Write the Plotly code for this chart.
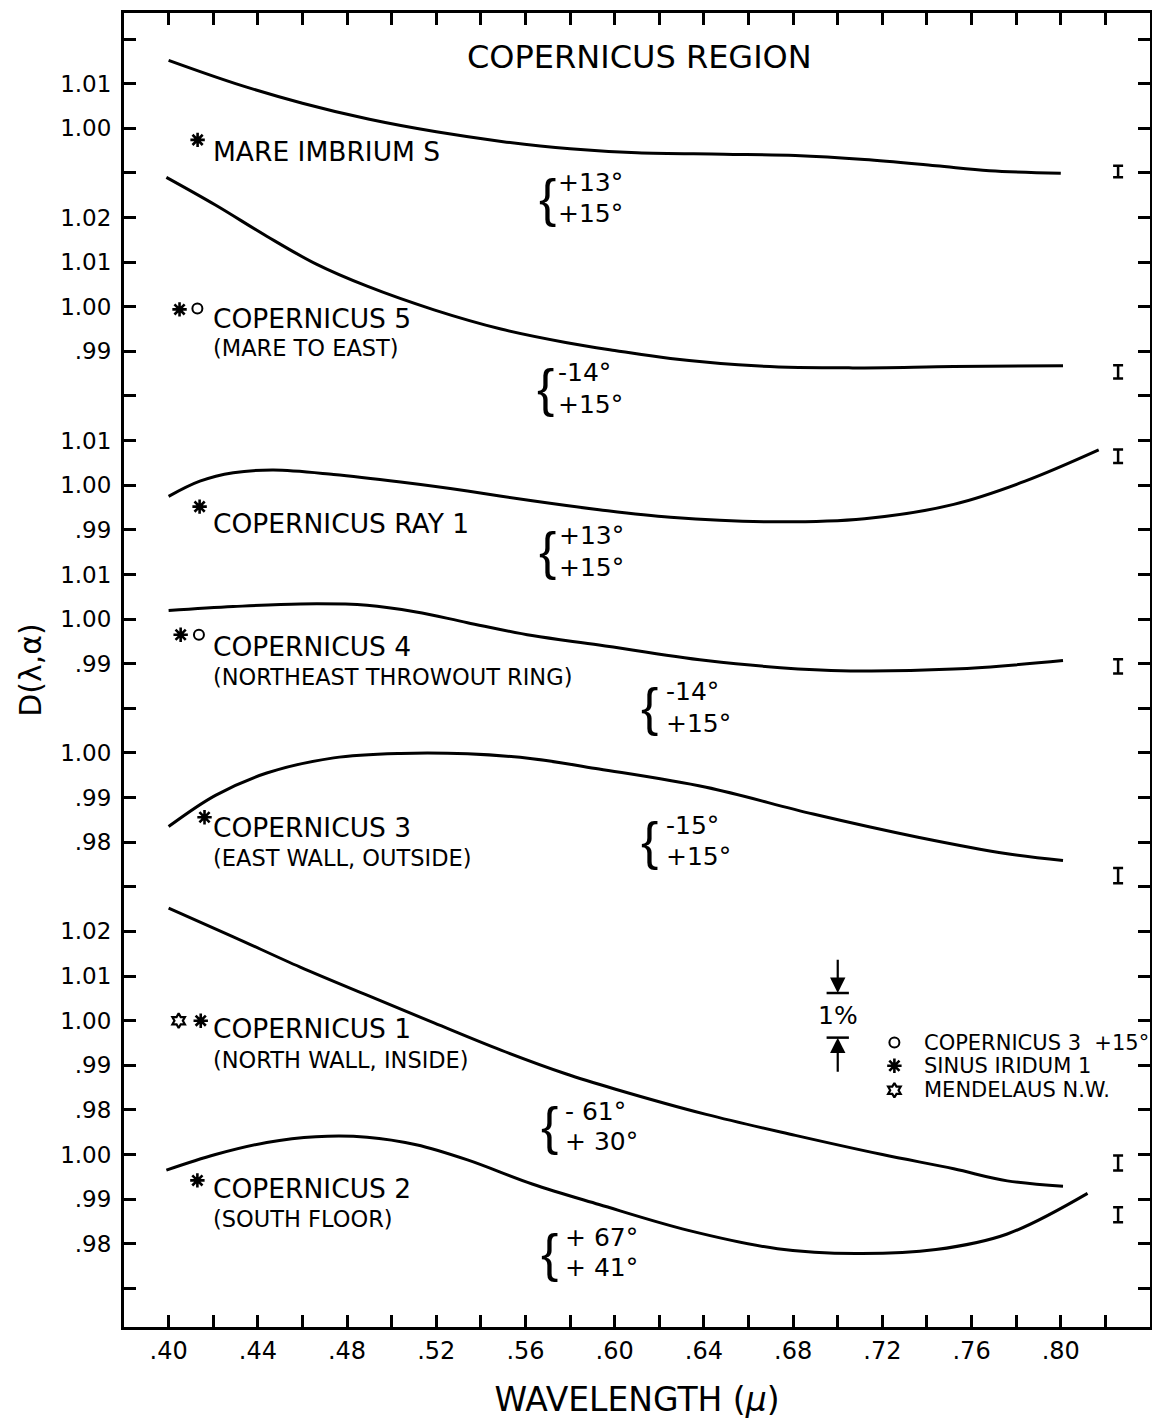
import plotly.graph_objects as go

# ---------------- data ----------------
# D(lambda, alpha) curves, wavelength in microns
mare_x = [0.400, 0.430, 0.460, 0.490, 0.520, 0.550, 0.580, 0.610, 0.649, 0.681, 0.712, 0.744, 0.768, 0.800]
mare_d = [1.0152, 1.0100, 1.0056, 1.0020, 0.9992, 0.9970, 0.9954, 0.9945, 0.9942, 0.9939, 0.9930, 0.9916, 0.9905, 0.9899]

cop5_x = [0.399, 0.421, 0.444, 0.466, 0.489, 0.519, 0.549, 0.578, 0.600, 0.625, 0.665, 0.705, 0.752, 0.801]
cop5_d = [1.0290, 1.0228, 1.0158, 1.0096, 1.0046, 0.9993, 0.9950, 0.9920, 0.9902, 0.9884, 0.9867, 0.9863, 0.9866, 0.9868]

ray1_x = [0.400, 0.414, 0.429, 0.447, 0.474, 0.504, 0.534, 0.563, 0.593, 0.625, 0.670, 0.712, 0.752, 0.784, 0.817]
ray1_d = [0.9975, 1.0009, 1.0028, 1.0034, 1.0024, 1.0007, 0.9987, 0.9965, 0.9945, 0.9928, 0.9918, 0.9925, 0.9957, 1.0009, 1.0079]

cop4_x = [0.400, 0.429, 0.459, 0.489, 0.511, 0.534, 0.563, 0.593, 0.641, 0.697, 0.752, 0.801]
cop4_d = [1.0019, 1.0028, 1.0034, 1.0031, 1.0016, 0.9992, 0.9963, 0.9942, 0.9907, 0.9885, 0.9888, 0.9907]

cop3_x = [0.400, 0.421, 0.444, 0.474, 0.504, 0.534, 0.563, 0.593, 0.641, 0.689, 0.736, 0.776, 0.801]
cop3_d = [0.9835, 0.9905, 0.9955, 0.9989, 0.9999, 0.9998, 0.9987, 0.9964, 0.9923, 0.9863, 0.9811, 0.9774, 0.9759]

cop1_x = [0.400, 0.429, 0.459, 0.489, 0.519, 0.549, 0.578, 0.600, 0.641, 0.681, 0.720, 0.752, 0.776, 0.801]
cop1_d = [1.0252, 1.0188, 1.0120, 1.0057, 0.9995, 0.9934, 0.9881, 0.9847, 0.9790, 0.9743, 0.9700, 0.9668, 0.9641, 0.9629]

cop2_x = [0.399, 0.421, 0.444, 0.466, 0.489, 0.511, 0.534, 0.563, 0.593, 0.633, 0.673, 0.708, 0.744, 0.776, 0.812]
cop2_d = [0.9965, 1.0000, 1.0027, 1.0040, 1.0039, 1.0022, 0.9988, 0.9934, 0.9888, 0.9830, 0.9789, 0.9778, 0.9787, 0.9822, 0.9913]

# vertical shift of each panel (D units) in the stacked plot
panel_offsets = [0.0, -0.04, -0.08, -0.11, -0.14, -0.20, -0.23]

# curve labels
label_names = ["MARE IMBRIUM S", "COPERNICUS 5", "COPERNICUS RAY 1", "COPERNICUS 4",
               "COPERNICUS 3", "COPERNICUS 1", "COPERNICUS 2"]
label_subs = ["", "(MARE TO EAST)", "", "(NORTHEAST THROWOUT RING)",
              "(EAST WALL, OUTSIDE)", "(NORTH WALL, INSIDE)", "(SOUTH FLOOR)"]
label_d = [0.9947, 0.9974, 0.9915, 0.9939, 0.9833, 0.9982, 0.9923]
sub_d = [None, 0.9907, None, 0.9870, 0.9765, 0.9912, 0.9855]
label_x = 0.4190

# phase angle pairs
angle_top = ["+13°", "-14°", "+13°", "-14°", "-15°", "- 61°", "+ 67°"]
angle_bottom = ["+15°", "+15°", "+15°", "+15°", "+15°", "+ 30°", "+ 41°"]
angle_d = [0.9844, 0.9817, 0.9852, 0.9802, 0.9803, 0.9763, 0.9780]
angle_gap = [0.0034, 0.0036, 0.0036, 0.0035, 0.0035, 0.0034, 0.0033]
angle_brace_x = [0.5697, 0.5688, 0.5697, 0.6155, 0.6155, 0.5706, 0.5706]
angle_text_x = [0.5736, 0.5736, 0.5740, 0.6221, 0.6221, 0.5767, 0.5767]

# comparison points
circle_x = [0.4129, 0.4136]
circle_d = [0.9996, 0.9965]
circle_panel = [1, 3]
asterisk_x = [0.4130, 0.4049, 0.4139, 0.4054, 0.4161, 0.4144, 0.4129]
asterisk_d = [0.9974, 0.9994, 0.9952, 0.9965, 0.9856, 1.0000, 0.9942]
asterisk_panel = [0, 1, 2, 3, 4, 5, 6]
hexagram_x = [0.4045]
hexagram_d = [1.0000]
hexagram_panel = [5]

# key for the point symbols (drawn in panel 5 units)
key_names = ["COPERNICUS 3  +15°", "SINUS IRIDUM 1", "MENDELAUS N.W."]
key_symbols = ["circle-open", "asterisk-open", "hexagram-open"]
key_d = [0.9951, 0.9899, 0.9844]
key_x, key_text_x = 0.7254, 0.7376

# error bars at the right
err_x = 0.8257
err_d = [0.9903, 0.9854, 1.0065, 0.9894, 0.9725, 0.9681, 0.9865]
err_half = [0.0013, 0.0015, 0.0015, 0.0016, 0.0017, 0.0017, 0.0017]

# 1% scale marker (in panel 5 units)
scale_x = 0.70
scale_top, scale_bottom = 1.0062, 0.9962
scale_top_tail, scale_bottom_tail = 1.0140, 0.9882

# axis ticks
x_tickvals = [round(0.40 + 0.02 * i, 2) for i in range(22)]
x_ticktext = [(".%02d" % round(v * 100)) if i % 2 == 0 else "" for i, v in enumerate(x_tickvals)]
y_tickvals = [round(1.02 - 0.01 * k, 2) for k in range(29)]
y_ticktext = ["", "1.01", "1.00", "", "1.02", "1.01", "1.00", ".99", "", "1.01", "1.00", ".99",
              "1.01", "1.00", ".99", "", "1.00", ".99", ".98", "", "1.02", "1.01", "1.00", ".99",
              ".98", "1.00", ".99", ".98", ""]

FONT = "DejaVu Sans"
fig = go.Figure()

curves = [(mare_x, mare_d), (cop5_x, cop5_d), (ray1_x, ray1_d), (cop4_x, cop4_d),
          (cop3_x, cop3_d), (cop1_x, cop1_d), (cop2_x, cop2_d)]
for i, (cx, cd) in enumerate(curves):
    fig.add_trace(go.Scatter(x=cx, y=[v + panel_offsets[i] for v in cd], mode="lines",
                             line=dict(color="black", width=3, shape="spline", smoothing=1.0),
                             showlegend=False, hoverinfo="skip"))

marker_styles = {
    "circle-open": dict(size=10, line=dict(width=2, color="black")),
    "asterisk-open": dict(size=12, line=dict(width=2.6, color="black")),
    "hexagram-open": dict(size=11, line=dict(width=2.2, color="black")),
}
for sym, xs, ds, ps in [("circle-open", circle_x, circle_d, circle_panel),
                        ("asterisk-open", asterisk_x, asterisk_d, asterisk_panel),
                        ("hexagram-open", hexagram_x, hexagram_d, hexagram_panel)]:
    fig.add_trace(go.Scatter(x=xs, y=[d + panel_offsets[p] for d, p in zip(ds, ps)], mode="markers",
                             marker=dict(symbol=sym, color="black", **marker_styles[sym]),
                             showlegend=False, hoverinfo="skip"))

# key symbols
for sym, d in zip(key_symbols, key_d):
    fig.add_trace(go.Scatter(x=[key_x], y=[d + panel_offsets[5]], mode="markers",
                             marker=dict(symbol=sym, color="black", **marker_styles[sym]),
                             showlegend=False, hoverinfo="skip"))

fig.add_trace(go.Scatter(x=[err_x] * len(err_d), y=[d + o for d, o in zip(err_d, panel_offsets)],
                         mode="markers", marker=dict(size=1, color="rgba(0,0,0,0)"),
                         error_y=dict(type="data", array=err_half, color="black", thickness=2.5, width=5),
                         showlegend=False, hoverinfo="skip"))

ann = []
ann.append(dict(x=0.6113, y=1.0160, xref="x", yref="y", text="COPERNICUS REGION", showarrow=False,
                font=dict(size=32, family=FONT, color="black")))
for i in range(7):
    off = panel_offsets[i]
    ann.append(dict(x=label_x, y=label_d[i] + off, xref="x", yref="y", text=label_names[i],
                    showarrow=False, xanchor="left", yanchor="middle",
                    font=dict(size=26.5, family=FONT, color="black")))
    if label_subs[i]:
        ann.append(dict(x=label_x, y=sub_d[i] + off, xref="x", yref="y", text=label_subs[i],
                        showarrow=False, xanchor="left", yanchor="middle",
                        font=dict(size=22.5, family=FONT, color="black")))
    ann.append(dict(x=angle_brace_x[i], y=angle_d[i] + off, xref="x", yref="y", text="{",
                    showarrow=False, xanchor="center", yanchor="middle",
                    font=dict(size=52, family="Liberation Sans", color="black")))
    ann.append(dict(x=angle_text_x[i], y=angle_d[i] + angle_gap[i] + off, xref="x", yref="y",
                    text=angle_top[i], showarrow=False, xanchor="left", yanchor="middle",
                    font=dict(size=25, family=FONT, color="black")))
    ann.append(dict(x=angle_text_x[i], y=angle_d[i] - angle_gap[i] + off, xref="x", yref="y",
                    text=angle_bottom[i], showarrow=False, xanchor="left", yanchor="middle",
                    font=dict(size=25, family=FONT, color="black")))

off5 = panel_offsets[5]
for name, d in zip(key_names, key_d):
    ann.append(dict(x=key_text_x, y=d + off5, xref="x", yref="y", text=name, showarrow=False,
                    xanchor="left", yanchor="middle", font=dict(size=21, family=FONT, color="black")))

for head, tail in [(scale_top, scale_top_tail), (scale_bottom, scale_bottom_tail)]:
    ann.append(dict(x=scale_x, y=head + off5, ax=scale_x, ay=tail + off5, xref="x", yref="y",
                    axref="x", ayref="y", text="", showarrow=True, arrowhead=2, arrowsize=1.4,
                    arrowwidth=2.2, arrowcolor="black", standoff=0, startstandoff=0))
ann.append(dict(x=scale_x, y=(scale_top + scale_bottom) / 2 + off5, xref="x", yref="y", text="1%",
                showarrow=False, font=dict(size=25, family=FONT, color="black")))

shapes = []
for v in (scale_top, scale_bottom):
    shapes.append(dict(type="line", xref="x", yref="y", x0=scale_x - 0.005, x1=scale_x + 0.005,
                       y0=v + off5, y1=v + off5, line=dict(color="black", width=2.5)))

fig.update_layout(
    width=1152, height=1419,
    margin=dict(l=124, r=2, t=13, b=92),
    paper_bgcolor="white", plot_bgcolor="white",
    font=dict(family=FONT, color="black"),
    annotations=ann, shapes=shapes,
    showlegend=False,
)
fig.update_xaxes(range=[0.38, 0.84], tickvals=x_tickvals, ticktext=x_ticktext,
                 ticks="inside", ticklen=12, tickwidth=2.5, tickcolor="black",
                 showline=True, linewidth=3, linecolor="black", mirror="ticks",
                 showgrid=False, zeroline=False, tickfont=dict(size=24), ticklabelstandoff=0,
                 title=dict(text="WAVELENGTH (<i>μ</i>)", font=dict(size=33), standoff=25),
                 automargin=False)
fig.update_yaxes(range=[0.73135, 1.02583], tickvals=y_tickvals, ticktext=y_ticktext,
                 ticks="inside", ticklen=12, tickwidth=2.5, tickcolor="black",
                 showline=True, linewidth=3, linecolor="black", mirror="ticks",
                 showgrid=False, zeroline=False, tickfont=dict(size=23), ticklabelstandoff=5,
                 title=dict(text="D(λ,α)", font=dict(size=30), standoff=10),
                 automargin=False)

fig.write_html("out.html")
